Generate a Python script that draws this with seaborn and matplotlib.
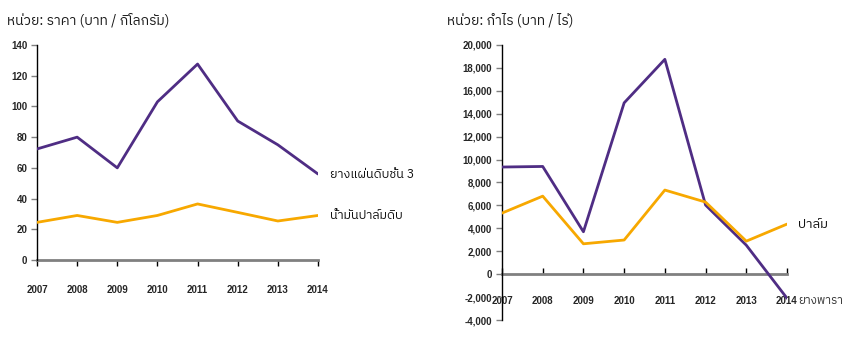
import matplotlib
matplotlib.use("Agg")
import matplotlib.pyplot as plt
from matplotlib import font_manager, ft2font
from matplotlib.ticker import FuncFormatter
import seaborn as sns
import pandas as pd

# ---- data ----
years = [2007, 2008, 2009, 2010, 2011, 2012, 2013, 2014]
rubber_price = [72.3, 80.0, 60.0, 103.0, 127.6, 90.5, 75.0, 56.0]
palm_oil_price = [24.5, 29.0, 24.5, 29.0, 36.5, 31.0, 25.4, 29.0]
rubber_profit = [9350, 9400, 3700, 14950, 18750, 6030, 2530, -2100]
palm_profit = [5330, 6810, 2650, 2980, 7340, 6290, 2880, 4370]

price_ticks = [0, 20, 40, 60, 80, 100, 120, 140]
profit_ticks = [-4000, -2000, 0, 2000, 4000, 6000, 8000, 10000,
                12000, 14000, 16000, 18000, 20000]

title_left = "หน่วย: ราคา (บาท / กิโลกรัม)"
title_right = "หน่วย: กำไร (บาท / ไร่)"
label_rubber_sheet = "ยางแผ่นดิบชั้น 3"
label_palm_oil = "น้ำมันปาล์มดิบ"
label_palm = "ปาล์ม"
label_rubber = "ยางพารา"

PURPLE = "#4f2d84"
ORANGE = "#f7a800"


def thai_capable_families():
    found = []
    for f in font_manager.fontManager.ttflist:
        try:
            cmap = ft2font.FT2Font(f.fname).get_charmap()
        except Exception:
            continue
        if 0x0E01 in cmap and 0x0E48 in cmap and f.name not in found:
            found.append(f.name)
    found.sort(key=lambda n: (0 if "Sans" in n else 1, n))
    return found


sns.set_theme(style="white")
thai = thai_capable_families()
families = thai[:1] + ["Liberation Sans", "DejaVu Sans"]
plt.rcParams["font.family"] = families

W, H = 851, 343
fig = plt.figure(figsize=(W / 100, H / 100), dpi=100)


def px_axes(x0, x1, y0, y1):
    return fig.add_axes([x0 / W, 1 - y1 / H, (x1 - x0) / W, (y1 - y0) / H])


def style_axes(ax, ticks, ylim, fmt, label_pad, tick_dir):
    ax.set_xlim(years[0], years[-1])
    ax.set_ylim(*ylim)
    ax.set_yticks(ticks)
    ax.yaxis.set_major_formatter(FuncFormatter(fmt))
    ax.set_xticks(years)
    ax.set_xticklabels([str(y) for y in years])
    for side in ("top", "right"):
        ax.spines[side].set_visible(False)
    ax.spines["left"].set_color("black")
    ax.spines["left"].set_linewidth(1.0)
    ax.spines["bottom"].set_color("#808080")
    ax.spines["bottom"].set_linewidth(2.0)
    ax.spines["bottom"].set_position(("data", 0))
    ax.spines["bottom"].set_zorder(1)
    ax.tick_params(axis="y", left=True, direction="out", length=4, width=1,
                   color="#808080", pad=3, labelsize=7)
    ax.tick_params(axis="x", bottom=True, direction=tick_dir, length=4,
                   width=1, color="black", pad=label_pad, labelsize=7)
    for lab in ax.get_xticklabels() + ax.get_yticklabels():
        lab.set_fontweight("bold")
        lab.set_fontfamily(["Liberation Sans", "DejaVu Sans"])
    ax.set_xlabel("")
    ax.set_ylabel("")
    ax.patch.set_alpha(0)


def draw_series(ax, values, color):
    df = pd.DataFrame({"year": years, "value": values})
    sns.lineplot(data=df, x="year", y="value", ax=ax, color=color,
                 linewidth=2.0, zorder=3)


def end_label(ax, values, text, dx, dy=0, size=9, color="#111111"):
    ax.annotate(text, xy=(years[-1], values[-1]), xytext=(dx, dy),
                textcoords="offset points", ha="left", va="center",
                fontsize=size, color=color, annotation_clip=False)


# left panel: prices
ax1 = px_axes(37, 318, 45, 260)
draw_series(ax1, rubber_price, PURPLE)
draw_series(ax1, palm_oil_price, ORANGE)
style_axes(ax1, price_ticks, (0, 140), lambda v, p: f"{v:.0f}", 14, "out")
end_label(ax1, rubber_price, label_rubber_sheet, 9)
end_label(ax1, palm_oil_price, label_palm_oil, 9)
fig.text(7 / W, 1 - 20 / H, title_left, fontsize=10, color="#1a1a1a",
         ha="left", va="center")

# right panel: profits
ax2 = px_axes(502, 787, 45, 320)
draw_series(ax2, rubber_profit, PURPLE)
draw_series(ax2, palm_profit, ORANGE)
style_axes(ax2, profit_ticks, (-4000, 20000), lambda v, p: f"{v:,.0f}",
           15.5, "in")
end_label(ax2, palm_profit, label_palm, 8, size=9.5)
end_label(ax2, rubber_profit, label_rubber, 8, -2, size=8.5, color="#333333")
fig.text(447 / W, 1 - 20 / H, title_right, fontsize=10, color="#1a1a1a",
         ha="left", va="center")

fig.savefig("out.png", dpi=100)
